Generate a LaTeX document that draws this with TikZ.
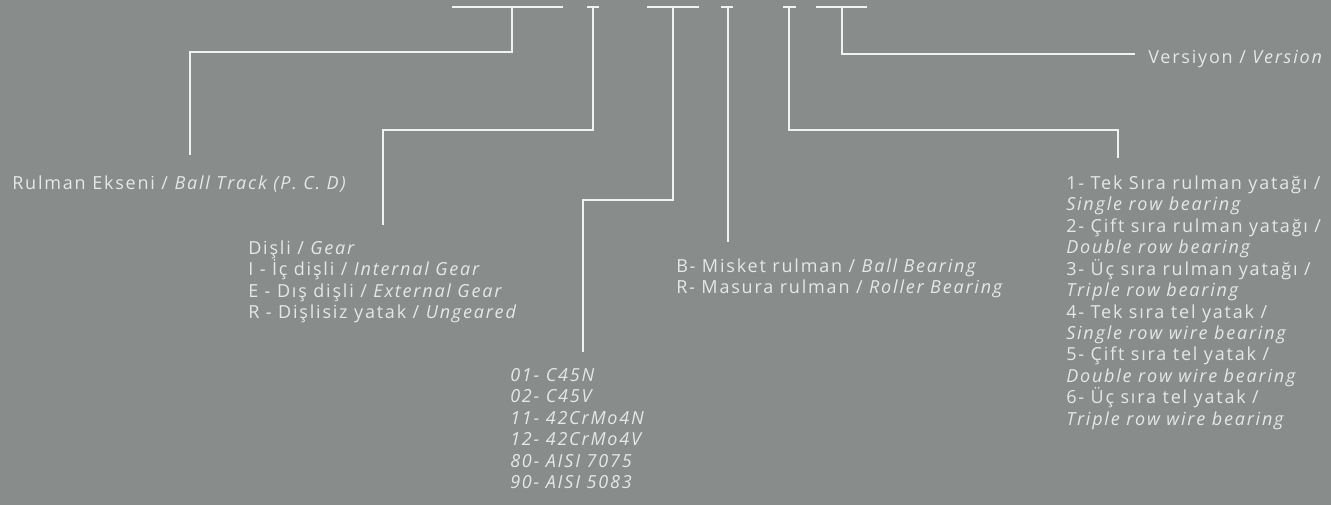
\documentclass[tikz,border=0pt]{standalone}
\usepackage{fontspec}
\setmainfont{Open Sans}[LetterSpace=10]
\definecolor{bg}{RGB}{136,140,139}
\definecolor{ln}{RGB}{242,242,242}
\definecolor{tx}{RGB}{230,232,232}
\newcommand{\fl}{\rule{0pt}{12pt}}
\begin{document}
\begin{tikzpicture}[x=0.75pt,y=-0.75pt,
  conn/.style={draw=ln,line width=1.5pt,line join=miter},
  lbl/.style={anchor=north west,inner sep=0pt,text=tx,align=left,
    font=\fontsize{13.5}{16.1}\selectfont}]
\fill[bg] (0,0) rectangle (1331,505);
\useasboundingbox (0,0) rectangle (1331,505);
% top bars
\coordinate (b1a) at (452,7); \coordinate (b1b) at (563,7); \coordinate (s1) at (512,7);
\coordinate (b2a) at (587,7); \coordinate (b2b) at (599,7); \coordinate (s2) at (593,7);
\coordinate (b3a) at (647,7); \coordinate (b3b) at (699,7); \coordinate (s3) at (673,7);
\coordinate (b4a) at (721,7); \coordinate (b4b) at (733,7); \coordinate (s4) at (728,7);
\coordinate (b5a) at (783,7); \coordinate (b5b) at (796,7); \coordinate (s5) at (789,7);
\coordinate (b6a) at (816,7); \coordinate (b6b) at (867,7); \coordinate (s6) at (842,7);
\foreach \i in {1,...,6} \draw[conn] (b\i a) -- (b\i b);
% labels
\node[lbl] (axis) at (12,173) {\fl Rulman Ekseni / \textit{Ball Track (P. C. D)}};
\node[lbl] (gear) at (248,238) {\fl Dişli / \textit{Gear}\\
I - İç dişli / \textit{Internal Gear}\\
E - Dış dişli / \textit{External Gear}\\
R - Dişlisiz yatak / \textit{Ungeared}};
\node[lbl] (mat) at (510,365) {\fl\itshape 01- C45N\\
\itshape 02- C45V\\
\itshape 11- 42CrMo4N\\
\itshape 12- 42CrMo4V\\
\itshape 80- AISI 7075\\
\itshape 90- AISI 5083};
\node[lbl] (type) at (676,256) {\fl B- Misket rulman / \textit{Ball Bearing}\\
R- Masura rulman / \textit{Roller Bearing}};
\node[lbl] (rows) at (1066,173) {\fl 1- Tek Sıra rulman yatağı /\\
\textit{Single row bearing}\\
2- Çift sıra rulman yatağı /\\
\textit{Double row bearing}\\
3- Üç sıra rulman yatağı /\\
\textit{Triple row bearing}\\
4- Tek sıra tel yatak /\\
\textit{Single row wire bearing}\\
5- Çift sıra tel yatak /\\
\textit{Double row wire bearing}\\
6- Üç sıra tel yatak /\\
\textit{Triple row wire bearing}};
\node[lbl] (ver) at (1148,47) {\fl Versiyon / \textit{Version}};
% end coordinates
\coordinate (e1) at (190,155);
\coordinate (e2) at (383,225);
\coordinate (e3) at (583,352);
\coordinate (e4) at (728,242);
\coordinate (e5) at (1118,158);
\coordinate (e6) at (1135,54);
% connectors
\draw[conn] (s1) -- (512,52) -| (e1);
\draw[conn] (s2) -- (593,130) -| (e2);
\draw[conn] (s3) -- (673,200) -| (e3);
\draw[conn] (s4) -- (e4);
\draw[conn] (s5) -- (789,130) -| (e5);
\draw[conn] (s6) |- (e6);
\end{tikzpicture}
\end{document}
